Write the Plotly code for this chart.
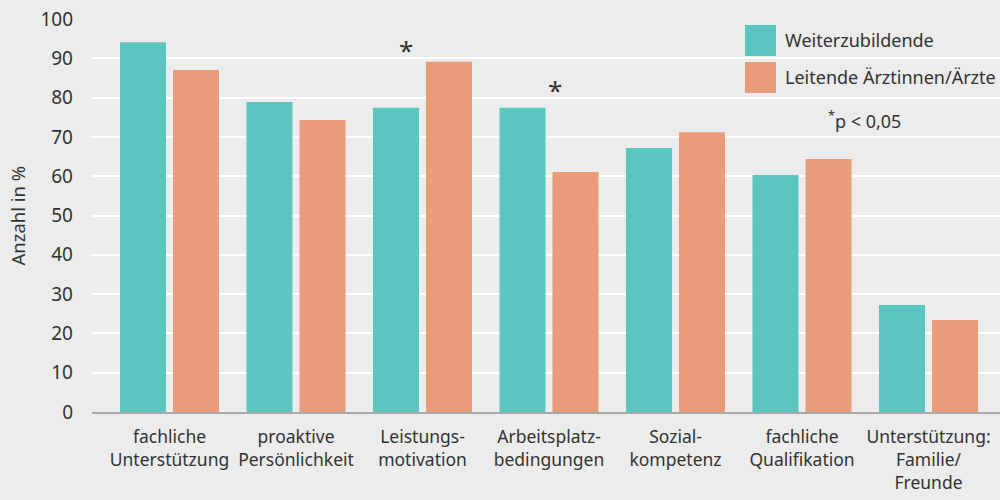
import plotly.graph_objects as go

categories = ["fachliche<br>Unterstützung", "proaktive<br>Persönlichkeit", "Leistungs-<br>motivation",
              "Arbeitsplatz-<br>bedingungen", "Sozial-<br>kompetenz", "fachliche<br>Qualifikation",
              "Unterstützung:<br>Familie/<br>Freunde"]
weiterzubildende = [94.1, 78.9, 77.4, 77.4, 67.2, 60.3, 27.2]
leitende = [87.0, 74.3, 89.1, 61.1, 71.2, 64.4, 23.4]
series_names = ["Weiterzubildende", "Leitende Ärztinnen/Ärzte"]
y_ticks = [0, 10, 20, 30, 40, 50, 60, 70, 80, 90, 100]
significant = [2, 3]          # category indices marked with *
sig_offsets = [-0.13, 0.05]   # horizontal nudge of the asterisk
sig_y = [92.0, 82.0]

TEAL = "#5bc5bf"
SALMON = "#e89c7a"
BG = "#ebeceb"
TXT = "#333333"
FONT = "Noto Sans"

x_idx = list(range(len(categories)))

fig = go.Figure()
fig.add_bar(x=x_idx, y=weiterzubildende, name=series_names[0], marker_color=TEAL, marker_line_width=0)
fig.add_bar(x=x_idx, y=leitende, name=series_names[1], marker_color=SALMON, marker_line_width=0)

fig.update_layout(
    width=1000, height=500,
    margin=dict(l=92, r=0, t=19, b=88),
    paper_bgcolor=BG, plot_bgcolor=BG,
    barmode="group", bargap=0.162, bargroupgap=0.132,
    showlegend=False,
    font=dict(family=FONT, size=17, color=TXT),
)
fig.update_xaxes(
    tickmode="array", tickvals=x_idx, ticktext=categories,
    range=[-0.6126, 6.565], showgrid=False, zeroline=False,
    showline=True, linecolor="#a8aaaa", linewidth=2,
    ticks="", ticklabelstandoff=8, tickfont=dict(size=17.5, color=TXT),
)
fig.update_yaxes(
    range=[0, 100], tickvals=y_ticks, showgrid=True, gridcolor="white", gridwidth=2,
    zeroline=False, showline=False, ticks="", ticklabelstandoff=18,
    tickfont=dict(size=19, color=TXT),
)

# y title
fig.add_annotation(text="Anzahl in %", xref="paper", yref="paper", x=-0.0815, y=0.5,
                   textangle=-90, showarrow=False, font=dict(size=18.5, color=TXT),
                   xanchor="center", yanchor="middle")

# significance asterisks
for i, off, yy in zip(significant, sig_offsets, sig_y):
    fig.add_annotation(text="*", x=i + off, y=yy, xref="x", yref="y", showarrow=False,
                       font=dict(size=26, color=TXT), yanchor="middle")

# custom legend
def px2px(x):
    return (x - 92) / 908

def py2py(y):
    return (412 - y) / 393

for (top, bot), col, name in zip([(25, 56), (62, 93)], [TEAL, SALMON], series_names):
    fig.add_shape(type="rect", xref="paper", yref="paper", x0=px2px(745), x1=px2px(776),
                  y0=py2py(bot), y1=py2py(top), fillcolor=col, line_width=0, layer="above")
    fig.add_annotation(text=name, xref="paper", yref="paper", x=px2px(783), y=py2py((top + bot) / 2),
                       xanchor="left", yanchor="middle", showarrow=False,
                       font=dict(size=18, color=TXT))

fig.add_annotation(text="<sup>*</sup>p < 0,05", xref="paper", yref="paper", x=px2px(864), y=py2py(120),
                   xanchor="center", yanchor="middle", showarrow=False, font=dict(size=18, color=TXT))

fig.write_html("out.html", config={"displayModeBar": False},
               post_script="document.body.style.margin='0';document.body.style.overflow='hidden';")
